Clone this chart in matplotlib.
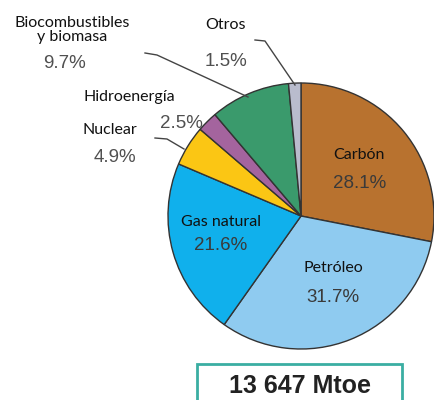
import matplotlib.pyplot as plt
from matplotlib.patches import Rectangle

# share of world primary energy supply
labels = ["Carbón", "Petróleo", "Gas natural", "Nuclear", "Hidroenergía",
          "Biocombustibles\ny biomasa", "Otros"]
shares = [28.1, 31.7, 21.6, 4.9, 2.5, 9.7, 1.5]
colors = ["#b8722f", "#8fcbf0", "#10b0ec", "#fbc614", "#a4649e", "#3a9a6c", "#b9bccd"]
total_text = "13 647 Mtoe"

pct_font = "Liberation Sans"
lab_font = "Lato"

H = 400
fig = plt.figure(figsize=(4.35, 4.0), dpi=100)
ax = fig.add_axes([0, 0, 1, 1])

cx, cy, r = 301, H - 216, 133
ax.pie(shares, colors=colors, startangle=90, counterclock=False,
       center=(cx, cy), radius=r, frame=True,
       wedgeprops=dict(edgecolor="#333333", linewidth=1.0))
ax.set_xlim(0, 435)
ax.set_ylim(0, H)
ax.set_aspect("equal")
ax.axis("off")

def lab(x, y, s):
    ax.text(x, H - y, s, ha="center", va="center", family=lab_font,
            fontsize=11.5, color="#111111", linespacing=1.05)

def pct(x, y, v, col="#505050"):
    ax.text(x, H - y, f"{v}%", ha="center", va="center", family=pct_font,
            fontsize=13.5, color=col)

# labels inside
lab(359, 155, labels[0]); pct(360, 184, shares[0], "#3a3a3a")
lab(333, 268, labels[1]); pct(333, 297, shares[1], "#3a3a3a")
lab(221, 222, labels[2]); pct(221, 246, shares[2], "#3a3a3a")

# labels outside
lab(110, 130, labels[3]); pct(115, 158, shares[3])
lab(129, 97, labels[4]); pct(181, 124, shares[4])
lab(72, 30, labels[5]); pct(65, 64, shares[5])
lab(226, 25, labels[6]); pct(226, 61, shares[6])

# leader lines
lc = dict(color="#444444", linewidth=1.0)
ax.plot([255, 265, 295], [H - 40, H - 41, H - 85], **lc)
ax.plot([145, 157, 248], [H - 53, H - 55, H - 97], **lc)
ax.plot([155, 167, 184], [H - 138, H - 139, H - 149], **lc)

# total box
ax.add_patch(Rectangle((197, H - 410), 205, 46, facecolor="white",
                       edgecolor="#3aaea2", linewidth=2, clip_on=False))
ax.text(300, H - 386, total_text, ha="center", va="center", family="Liberation Sans",
        fontsize=18, fontweight="bold", color="#222222")

fig.savefig("out.png", dpi=100)
